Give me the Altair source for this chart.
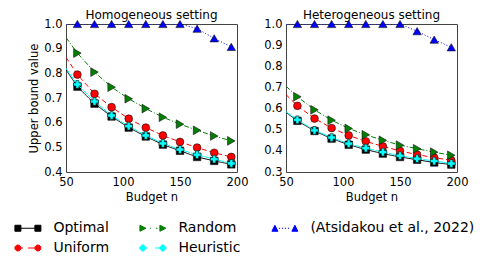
import altair as alt
import pandas as pd

budget = [50, 60, 75, 90, 105, 120, 135, 150, 165, 180, 195]
series_names = ["Optimal", "Uniform", "Random", "Heuristic", "(Atsidakou et al., 2022)"]

homo_optimal = [0.815, 0.746, 0.677, 0.625, 0.580, 0.544, 0.511, 0.486, 0.461, 0.445, 0.431]
homo_heuristic = [0.820, 0.755, 0.686, 0.629, 0.586, 0.548, 0.516, 0.491, 0.470, 0.452, 0.435]
homo_uniform = [0.865, 0.795, 0.717, 0.663, 0.616, 0.580, 0.548, 0.522, 0.499, 0.478, 0.461]
homo_random = [0.945, 0.882, 0.805, 0.744, 0.697, 0.657, 0.622, 0.594, 0.569, 0.546, 0.526]
homo_atsidakou = [1.0, 1.0, 1.0, 1.0, 1.0, 1.0, 1.0, 1.0, 0.981, 0.942, 0.907]

hetero_optimal = [0.582, 0.542, 0.494, 0.458, 0.429, 0.406, 0.387, 0.371, 0.358, 0.345, 0.335]
hetero_heuristic = [0.585, 0.547, 0.497, 0.463, 0.434, 0.413, 0.394, 0.377, 0.363, 0.352, 0.340]
hetero_uniform = [0.666, 0.613, 0.553, 0.508, 0.473, 0.445, 0.421, 0.400, 0.382, 0.368, 0.355]
hetero_random = [0.706, 0.656, 0.594, 0.545, 0.506, 0.476, 0.450, 0.427, 0.410, 0.394, 0.379]
hetero_atsidakou = [1.0, 1.0, 1.0, 1.0, 1.0, 1.0, 1.0, 1.0, 0.966, 0.926, 0.890]

homo = {"Optimal": homo_optimal, "Uniform": homo_uniform, "Random": homo_random,
        "Heuristic": homo_heuristic, "(Atsidakou et al., 2022)": homo_atsidakou}
hetero = {"Optimal": hetero_optimal, "Uniform": hetero_uniform, "Random": hetero_random,
          "Heuristic": hetero_heuristic, "(Atsidakou et al., 2022)": hetero_atsidakou}

FONT = "DejaVu Sans"

style = {
    "Optimal": dict(color="#000000", dash=[1, 0], shape="square", size=56),
    "Uniform": dict(color="#ff0000", dash=[5, 3], shape="circle", size=60),
    "Random": dict(color="#008000", dash=[5, 2, 1, 2], shape="triangle-right", size=75),
    "Heuristic": dict(color="#00ffff", dash=[6, 1], shape="cross", size=60),
    "(Atsidakou et al., 2022)": dict(color="#0000ff", dash=[1, 2], shape="triangle-up", size=70),
}


def tofix(v):
    return f"{v:.3f}"


def sq(cx, h):
    return f"M{tofix(cx-h)},{tofix(-h)}H{tofix(cx+h)}V{tofix(h)}H{tofix(cx-h)}Z"


def circ(cx, r):
    return (f"M{tofix(cx-r)},0A{tofix(r)},{tofix(r)} 0 1,0 {tofix(cx+r)},0"
            f"A{tofix(r)},{tofix(r)} 0 1,0 {tofix(cx-r)},0Z")


def tri_r(cx, h):
    return f"M{tofix(cx-h)},{tofix(-h)}L{tofix(cx+h)},0L{tofix(cx-h)},{tofix(h)}Z"


def tri_u(cx, h):
    return f"M{tofix(cx)},{tofix(-h)}L{tofix(cx+h)},{tofix(h)}L{tofix(cx-h)},{tofix(h)}Z"


def plus(cx, h):
    t = h * 0.4
    return (f"M{tofix(cx-t)},{tofix(-h)}H{tofix(cx+t)}V{tofix(-t)}H{tofix(cx+h)}V{tofix(t)}"
            f"H{tofix(cx+t)}V{tofix(h)}H{tofix(cx-t)}V{tofix(t)}H{tofix(cx-h)}V{tofix(-t)}H{tofix(cx-t)}Z")


def segs(pairs):
    return "".join(f"M{tofix(a)},0H{tofix(b)}" for a, b in pairs)


C = 1.11
H = 0.333
K = 1.11
legend_paths = {
    "Optimal": sq(-C, H) + sq(C, H) + segs([(-C, C)]),
    "Uniform": circ(-C, H) + circ(C, H) + segs([(-0.7 * K, -0.5 * K), (0.0, 0.7 * K)]),
    "Random": tri_r(-C, H) + tri_r(C, H) + segs([(-0.3 * K, -0.2 * K), (0.3 * K, 0.45 * K)]),
    "Heuristic": plus(-C, H) + plus(C, H) + segs([(-0.7 * K, -0.5 * K), (0.2 * K, 0.7 * K)]),
    "(Atsidakou et al., 2022)": tri_u(-C, H) + tri_u(C, H)
    + segs([(-0.6 * K, -0.48 * K), (-0.3 * K, -0.18 * K), (0.0, 0.12 * K), (0.3 * K, 0.42 * K)]),
}

legend_order = series_names


def make_df(d):
    rows = []
    for s in series_names:
        for i, (b, v) in enumerate(zip(budget, d[s])):
            rows.append({"budget": b, "value": v, "series": s, "marker": i > 0})
    return pd.DataFrame(rows)


def panel(d, title, ymin, show_title):
    df = make_df(d)
    base = alt.Chart(df)
    x = alt.X("budget:Q", scale=alt.Scale(domain=[50, 200], nice=False),
              axis=alt.Axis(values=[50, 100, 150, 200], title="Budget n", grid=False,
                            ticks=False, domain=False, labelPadding=4, titlePadding=4,
                            labelFontSize=11.5, titleFontSize=11.5, labelFont=FONT,
                            titleFont=FONT, labelColor="#000", titleColor="#000",
                            titleFontWeight="normal", labelFlush=False))
    yticks = [round(ymin + 0.1 * k, 1) for k in range(int(round((1.0 - ymin) * 10)) + 1)]
    y = alt.Y("value:Q", scale=alt.Scale(domain=[ymin, 1.0], nice=False, zero=False),
              axis=alt.Axis(values=yticks, format=".1f",
                            title="Upper bound value" if show_title else None,
                            grid=False, ticks=False, domain=False, labelPadding=4,
                            titlePadding=4, labelFontSize=11.5, titleFontSize=11.5,
                            labelFont=FONT, titleFont=FONT, labelColor="#000",
                            titleColor="#000", titleFontWeight="normal", labelFlush=False))
    layers = []
    for s in series_names:
        st = style[s]
        sub = base.transform_filter(alt.datum.series == s)
        layers.append(sub.mark_line(color=st["color"], strokeDash=st["dash"],
                                    strokeWidth=1, clip=True).encode(x=x, y=y))
        layers.append(sub.transform_filter(alt.datum.marker).mark_point(
            shape=st["shape"], filled=True, fill=st["color"], stroke="#111",
            strokeWidth=0.6, size=st["size"], opacity=1, clip=False).encode(x=x, y=y))
    legend = alt.Legend(orient="none", legendX=-47.6, legendY=194.5, columns=3, title=None,
                        labelFontSize=14, labelFont=FONT, labelColor="#000", labelLimit=400,
                        symbolSize=324, symbolStrokeWidth=1, labelOffset=16,
                        columnPadding=28, rowPadding=3, symbolOpacity=1)
    leg = base.transform_filter("false").mark_point(filled=True).encode(
        x=x, y=y,
        shape=alt.Shape("series:N", scale=alt.Scale(domain=legend_order,
                        range=[legend_paths[s] for s in legend_order]), legend=legend),
        fill=alt.Fill("series:N", scale=alt.Scale(domain=legend_order,
                      range=[style[s]["color"] for s in legend_order]), legend=legend),
        stroke=alt.Stroke("series:N", scale=alt.Scale(domain=legend_order,
                          range=[style[s]["color"] for s in legend_order]), legend=legend),
    )
    layers.append(leg)
    return alt.layer(*layers).properties(
        width=171, height=148,
        title=alt.TitleParams(title, fontSize=12, font=FONT, fontWeight="normal",
                              color="#000", offset=-4, frame="group"))


left = panel(homo, "Homogeneous setting", 0.4, True)
right = panel(hetero, "Heterogeneous setting", 0.3, False)

chart = alt.hconcat(left, right, spacing=14).configure_view(
    stroke="#444", strokeWidth=1).properties(
    padding={"left": 10, "top": 0, "right": 5, "bottom": 0},
    background="white")

chart.save("out.html", embed_options={"renderer": "svg", "actions": False})
